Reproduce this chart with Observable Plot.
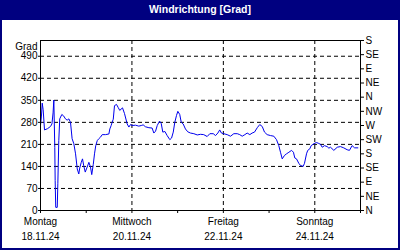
<!DOCTYPE html>
<html><head><meta charset="utf-8">
<script src="https://cdn.jsdelivr.net/npm/d3@7"></script>
<script src="https://cdn.jsdelivr.net/npm/@observablehq/plot@0.6"></script>
<style>
body{margin:0;background:#fff;}
#wrap{position:relative;width:400px;height:250px;overflow:hidden;background:#fff;font-family:"Liberation Sans",Arial,sans-serif;}
#head{position:absolute;left:0;top:0;width:400px;height:20px;background:#000080;color:#fff;font-weight:bold;font-size:10.5px;line-height:18px;text-align:center;}
#border{position:absolute;left:0;top:0;width:400px;height:250px;box-sizing:border-box;border:2px solid #000080;pointer-events:none;}
#chart{position:absolute;left:0;top:20px;}
</style></head><body>
<div id="wrap"><div id="head">Windrichtung [Grad]</div><div id="chart"></div><div id="border"></div></div>
<script>
const startDate = "2024-11-18T00:00:00Z";
const hours = [0,0.5,0.9,1.4,2.1,3.7,5.25,6.0,6.6,7.0,7.5,7.7,8.0,8.8,9.1,9.6,10.1,11.2,12.2,13.1,14.0,14.9,15.75,16.6,17.5,18.4,19.3,20.1,20.6,21.4,22.05,22.7,23.5,24.5,25.4,26.25,26.9,27.7,28.35,29.0,29.8,30.6,31.5,32.4,34.1,35.9,36.4,37.1,37.6,38.2,38.85,39.9,40.8,41.6,43.05,44.1,45.5,46.4,47.25,48.1,49.9,51.6,52.9,53.9,55.1,56.9,58.6,59.5,60.4,61.3,62.5,63.4,64.2,65.3,66.5,67.9,68.8,69.7,70.5,71.4,72.1,73.1,73.9,74.9,76.1,77.3,78.75,80.5,82.3,84,85.7,87.5,88.9,90.7,91.9,93.1,94.1,95.0,96.2,98.0,99.75,101.5,103.3,104.6,105.9,107.3,108.5,109.9,111.1,112.35,113.8,115.1,116.4,117.6,119.0,120.75,122.5,123.9,125.1,126,126.9,128.1,129.15,130.4,131.8,132.8,133.5,134.4,135.6,136.5,137.9,138.6,139.65,140.3,141.4,142.1,143.5,144.9,146.1,147,147.9,149.1,150.5,151.4,152.25,154.0,155.8,157.5,159.2,161.0,162.2,163.6,164.9,166.6];
const direction = [270,300,341,320,256,260,267,275,310,351,200,95,10,10,85,222,291,305,300,291,287,291,280,228,212,180,132,116,135,153,164,142,122,138,153,138,114,146,180,206,222,228,233,241,241,243,259,270,280,290,333,337,327,318,326,308,275,265,273,270,271,268,270,272,266,263,262,246,252,270,284,276,249,251,238,225,230,249,280,302,315,305,280,275,259,250,246,244,240,242,241,235,244,244,238,246,256,246,244,241,236,244,244,241,236,241,246,241,246,249,263,273,267,249,241,238,236,225,206,185,164,175,180,185,191,185,167,164,150,143,140,150,180,191,196,206,212,216,213,210,201,206,203,198,201,191,201,203,199,193,191,206,199,199];
const leftTicks = [0,70,140,210,280,350,420,490];
const compassTicks = [0,45,90,135,180,225,270,315,360,405,450,495,540];
const compassLabels = ["N","NE","E","SE","S","SW","W","NW","N","NE","E","SE","S"];
const dayLabels = ["Montag","Mittwoch","Freitag","Sonntag"];
const dateLabels = ["18.11.24","20.11.24","22.11.24","24.11.24"];
const labelDayOffsets = [0,2,4,6];
const gridDayOffsets = [2,4,6];
const tickDayOffsets = [0,1,2,3,4,5,6,7];

const t0 = Date.parse(startDate);
const DAY = 864e5;
const data = hours.map((h,i)=>({t:new Date(t0+h*3600e3), v:direction[i]}));
const dayDate = o => new Date(t0 + o*DAY);
const labelDates = labelDayOffsets.map(dayDate);

const chart = Plot.plot({
  width:400, height:230,
  marginLeft:40, marginRight:40, marginTop:20, marginBottom:40,
  style:{fontFamily:"'Liberation Sans', Arial, sans-serif", fontSize:"10px", color:"#000", background:"transparent", overflow:"visible"},
  x:{type:"utc", domain:[dayDate(0), dayDate(7)]},
  y:{domain:[0,540]},
  marks:[
    Plot.gridY(leftTicks.slice(1), {stroke:"#000", strokeOpacity:1, strokeDasharray:"4,3"}),
    Plot.gridX(gridDayOffsets.map(dayDate), {stroke:"#000", strokeOpacity:1, strokeDasharray:"4,3"}),
    Plot.line(data, {x:"t", y:"v", stroke:"#0000ee", strokeWidth:1}),
    Plot.frame({stroke:"#000"}),
    Plot.axisY(leftTicks, {anchor:"left", tickSize:2, tickPadding:1, label:null}),
    Plot.axisY(compassTicks, {anchor:"right", tickSize:3, tickPadding:2, label:null, tickFormat:d=>compassLabels[compassTicks.indexOf(d)]}),
    Plot.axisX(tickDayOffsets.map(dayDate), {tickSize:3, tickFormat:()=>"", label:null}),
    Plot.text(labelDates, {x:d=>d, frameAnchor:"bottom", dy:14, text:(d,i)=>dayLabels[i], fill:"#000"}),
    Plot.text(labelDates, {x:d=>d, frameAnchor:"bottom", dy:29, text:(d,i)=>dateLabels[i], fill:"#000"}),
    Plot.text(["Grad"], {frameAnchor:"top-left", dx:-3, dy:2, textAnchor:"end", text:d=>d, fill:"#000"})
  ]
});
document.getElementById("chart").appendChild(chart);
</script>
</body></html>
